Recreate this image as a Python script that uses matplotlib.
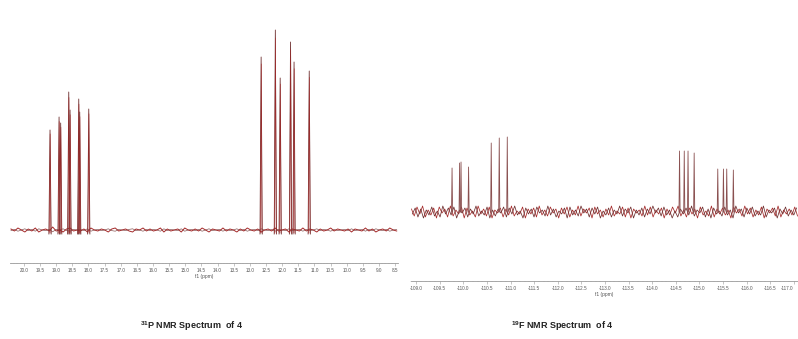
import numpy as np
import matplotlib
matplotlib.use("Agg")
import matplotlib.pyplot as plt
from matplotlib.ticker import MultipleLocator, FormatStrFormatter

plt.rcParams['font.family'] = ['Liberation Sans', 'DejaVu Sans']
plt.rcParams['mathtext.fontset'] = 'custom'
plt.rcParams['mathtext.rm'] = 'Liberation Sans:bold'
plt.rcParams['mathtext.bf'] = 'Liberation Sans:bold'

# ---------------- data ----------------
# 31P spectrum: peak positions (ppm) and heights (relative units)
p_peaks_ppm = [19.19, 18.91, 18.86, 18.61, 18.57, 18.30, 18.27, 17.99,
               12.65, 12.21, 12.06, 11.74, 11.63, 11.16]
p_peaks_h = [100, 113, 107, 138, 120, 131, 118, 121,
             173, 200, 152, 188, 168, 159]
p_noise = [1, -1, 2, 0, -2, 1, -1, 2, -2, 0, 1, -1, 3, -1, 0, -2, 1, 2, -1, 0,
           -1, 1, -2, 2, 0, -1, 1, 0, -2, 1, 2, -1, 0, 1, -1, -2, 1, 0, 2, -1,
           1, -1, 0, 2, -2, 1, -1, 0, 1, -2, 2, 0, -1, 1, -1, 2, 0, -2, 1, 0,
           -1, 2, -1, 1, 0, -2, 1, -1, 2, 0, -1, 1, -2, 0, 1, -1, 2, -1, 0, 1,
           -2, 1, 0, -1, 2, -1, 1, 0, -2, 1, -1, 0, 2, -1, 1, 0, -1, 1, -2, 1,
           0, -1, 2, -1, 1, -2, 0, 1, -1, 2, 0, -1]
p_ticks = [20.0, 19.5, 19.0, 18.5, 18.0, 17.5, 17.0, 16.5, 16.0, 15.5, 15.0,
           14.5, 14.0, 13.5, 13.0, 12.5, 12.0, 11.5, 11.0, 10.5, 10.0, 9.5,
           9.0, 8.5]

# 19F spectrum
f_peaks_ppm = [-109.76, -109.92, -109.95, -110.11, -110.59, -110.76, -110.93,
               -114.58, -114.68, -114.76, -114.89, -115.39, -115.51, -115.58,
               -115.72]
f_peaks_h = [44, 49, 50, 45, 69, 74, 75, 61, 61, 61, 59, 43, 43, 43, 42]
f_noise_a = [3, -4, 5, -2, 6, -5, 2, -3, 4, -6, 5, -1, 3, -5, 6, -4, 2, -2, 5, -6,
             4, -3, 1, -5, 6, -2, 3, -4, 5, -6, 2, -1, 4, -5, 3, -3, 6, -4, 1, -2,
             5, -6, 3, -2, 4, -5, 6, -3, 2, -4, 5, -1, 3, -6, 4, -2, 5, -5, 2, -3,
             6, -4, 3, -1, 4, -6, 5, -2, 2, -5, 3, -3, 6, -4, 1, -2, 5, -5, 4, -6,
             3, -1, 2, -4, 6, -3, 5, -5, 2, -2, 4, -6, 3, -3, 5, -1, 6, -4, 2, -5,
             4, -2, 3, -6, 5, -3, 1, -4, 6, -5, 3, -2, 4, -3, 2, -6, 5, -1, 3, -4,
             6, -2, 4, -5, 2, -3, 5, -6, 3, -1, 4, -4, 6, -5, 2, -2, 3, -3, 5, -4]
f_noise_b = [-2, 4, -5, 3, -6, 2, -3, 5, -4, 1, -5, 6, -2, 4, -3, 5, -6, 2, -1, 4,
             -5, 3, -2, 6, -4, 1, -3, 5, -6, 2, -4, 3, -1, 5, -5, 4, -2, 6, -3, 1,
             -6, 4, -2, 3, -5, 5, -1, 2, -4, 6, -3, 3, -5, 1, -2, 4, -6, 5, -3, 2,
             -4, 6, -1, 3, -5, 4, -2, 5, -6, 1, -3, 4, -5, 2, -2, 6, -4, 3, -1, 5,
             -6, 2, -3, 4, -5, 3, -2, 6, -1, 4, -4, 5, -3, 2, -6, 1, -5, 3, -2, 4,
             -3, 6, -4, 2, -1, 5, -5, 3, -6, 4, -2, 1, -4, 5, -3, 2, -6, 6, -1, 3,
             -5, 4, -2, 5, -4, 1, -3, 6, -5, 2, -1, 4, -6, 3, -2, 5, -4, 2, -3, 4]
f_ticks = [-109.0, -109.5, -110.0, -110.5, -111.0, -111.5, -112.0, -112.5,
           -113.0, -113.5, -114.0, -114.5, -115.0, -115.5, -116.0, -116.5, -117.0]

p_title = r"$^{31}$P NMR Spectrum  of 4"
f_title = r"$^{19}$F NMR Spectrum  of 4"
x_label = "f1 (ppm)"

# ---------------- figure ----------------
W, H = 798, 339
fig = plt.figure(figsize=(W / 100, H / 100), dpi=100)


def px_axes(x0, x1, ytop, ybot):
    return fig.add_axes([x0 / W, 1 - ybot / H, (x1 - x0) / W, (ybot - ytop) / H])


dark = '#6e2f2f'
red = '#a52a2a'


def style_axis(ax, ticks):
    for s in ['top', 'right', 'left']:
        ax.spines[s].set_visible(False)
    ax.spines['bottom'].set_color('#9a9a9a')
    ax.spines['bottom'].set_linewidth(0.6)
    ax.set_yticks([])
    ax.set_xticks(ticks)
    ax.xaxis.set_major_formatter(FormatStrFormatter('%.1f'))
    ax.xaxis.set_minor_locator(MultipleLocator(0.1))
    ax.tick_params(axis='x', which='major', length=2, width=0.4, color='#999999',
                   labelsize=3.3, labelcolor='#555555', pad=1.5)
    ax.tick_params(axis='x', which='minor', length=1, width=0.3, color='#aaaaaa')
    ax.set_xlabel(x_label, fontsize=3.5, color='#555555', labelpad=0.5)
    ax.patch.set_alpha(0)


# --- left: 31P ---
axp = px_axes(10, 398, 20, 263)
axp.set_xlim(20.43, 8.41)
axp.set_ylim(-33, 210)
xs = np.linspace(20.40, 8.45, len(p_noise))
axp.plot(xs, p_noise, color=red, lw=0.7)
axp.plot(xs, np.array(p_noise) * -0.6, color=dark, lw=0.5, alpha=0.8)
w = 0.035
for pos, h in zip(p_peaks_ppm, p_peaks_h):
    axp.plot([pos + w, pos, pos - w], [-4, h, -4], color=dark, lw=0.6)
    axp.plot([pos + w * 0.7, pos - 0.005, pos - w * 0.7], [-3, h * 0.96, -3],
             color=red, lw=0.5, alpha=0.8)
style_axis(axp, p_ticks)

# --- right: 19F ---
axf = px_axes(411, 798, 28, 281)
axf.set_xlim(-108.89, -117.09)
axf.set_ylim(-69, 184)
xa = np.linspace(-108.9, -117.08, len(f_noise_a))
xb = np.linspace(-108.92, -117.06, len(f_noise_b))
axf.plot(xa, f_noise_a, color=red, lw=0.55)
axf.plot(xb, f_noise_b, color=dark, lw=0.55)
wf = 0.012
for pos, h in zip(f_peaks_ppm, f_peaks_h):
    axf.plot([pos + wf, pos, pos - wf], [0, h, 0], color='#8a5050', lw=0.6)
style_axis(axf, f_ticks)
labels = axf.get_xticklabels()
labels[-1].set_horizontalalignment('right')

# --- captions ---
fig.text(192 / W, 1 - 326 / H, p_title, ha='center', va='center', fontsize=6.5,
         fontweight='bold', color='#222222')
fig.text(562 / W, 1 - 326 / H, f_title, ha='center', va='center', fontsize=6.5,
         fontweight='bold', color='#222222')

fig.savefig('out.png', dpi=100)
